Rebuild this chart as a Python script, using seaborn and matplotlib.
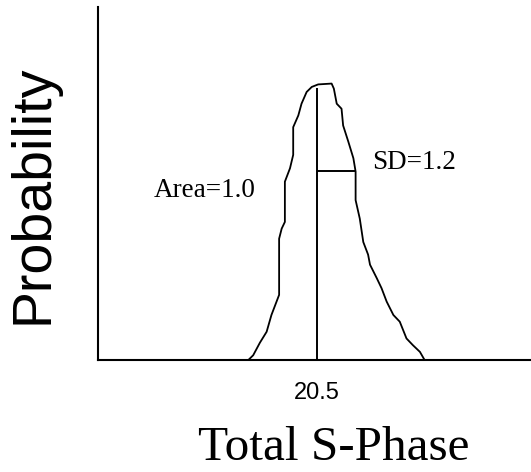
import matplotlib
matplotlib.use("Agg")
import matplotlib.pyplot as plt
import seaborn as sns

# Distribution outline (Total S-Phase, arbitrary density units)
curve_x = [18.34, 18.50, 18.71, 18.92, 19.07, 19.23, 19.31, 19.31, 19.39, 19.49,
           19.49, 19.65, 19.75, 19.75, 19.91, 20.01, 20.17, 20.33, 20.53, 20.95,
           21.02, 21.11, 21.26, 21.31, 21.47, 21.63, 21.70, 21.70, 21.83, 21.94,
           22.09, 22.15, 22.36, 22.51, 22.67, 22.88, 23.08, 23.29, 23.49, 23.71,
           23.86]
curve_y = [0.000, 0.006, 0.021, 0.034, 0.054, 0.070, 0.078, 0.145, 0.157, 0.165,
           0.213, 0.229, 0.245, 0.278, 0.292, 0.306, 0.320, 0.326, 0.329, 0.330,
           0.324, 0.306, 0.300, 0.280, 0.261, 0.241, 0.225, 0.191, 0.169, 0.141,
           0.126, 0.114, 0.098, 0.086, 0.070, 0.054, 0.046, 0.026, 0.018, 0.010,
           0.000]

mean_value = 20.5
sd_value = 1.2
mean_line_top = 0.3245
sd_line_height = 0.226
tick_values = [20.5]
tick_labels = ["20.5"]

sns.set_theme(style="white")
plt.rcParams["font.family"] = ["Liberation Serif", "DejaVu Serif"]
plt.rcParams["text.color"] = "black"

fig = plt.figure(figsize=(5.31, 4.72), dpi=100)
ax = fig.add_axes([0.1851, 0.2367, 0.8149, 0.7479])

sns.lineplot(x=curve_x, y=curve_y, sort=False, estimator=None,
             color="black", linewidth=1.3, ax=ax)
ax.vlines(mean_value, 0, mean_line_top, color="black", linewidth=1.4)
ax.hlines(sd_line_height, mean_value, mean_value + sd_value, color="black", linewidth=1.4)

ax.text(22.23, 0.2277, f"SD={sd_value}", fontsize=19.5, va="baseline", ha="left", color="black")
ax.text(15.40, 0.1946, "Area=1.0", fontsize=19.5, va="baseline", ha="left", color="black")

ax.set_xlim(13.66, 27.18)
ax.set_ylim(0, 0.421)
ax.set_xticks(tick_values)
ax.set_xticklabels(tick_labels, fontsize=17, family=["Liberation Sans"])
ax.set_yticks([])
ax.tick_params(axis="x", length=0, pad=15.4, colors="black")

for side in ["top", "right"]:
    ax.spines[side].set_visible(False)
for side in ["left", "bottom"]:
    ax.spines[side].set_color("black")
    ax.spines[side].set_linewidth(1.5)

ax.set_xlabel("Total S-Phase", fontsize=35.5, va="baseline", color="black")
ax.xaxis.set_label_coords(0.5447, -0.2820)
ax.set_ylabel("Probability", fontsize=40, family=["Liberation Sans"], color="black")
ax.yaxis.set_label_coords(-0.0900, 0.4700)

fig.savefig("out.png", dpi=100, facecolor="white")
